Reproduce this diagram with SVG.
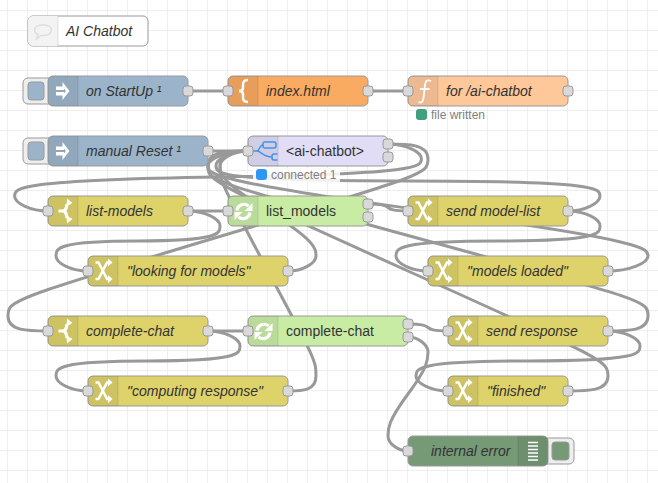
<svg xmlns="http://www.w3.org/2000/svg" xmlns:xlink="http://www.w3.org/1999/xlink" width="658" height="483" viewBox="0 0 658 483">
<style>
.grid{stroke:#eee;stroke-width:1;fill:none}
.wire{stroke:#999;stroke-width:3;fill:none}
.body{stroke:#999;stroke-width:1}
.shade{fill:#000;fill-opacity:.07}
.sep{stroke:#000;stroke-opacity:.1;stroke-width:1}
.port{fill:#d9d9d9;stroke:#999;stroke-width:1}
.lbl{font-family:"Liberation Sans",Arial,sans-serif;font-size:14px;fill:#333;font-kerning:none}
.it{font-style:italic}
.st{font-family:"Liberation Sans",Arial,sans-serif;font-size:12px;fill:#808080}
.btn{fill:#eee;stroke:#999;stroke-width:1}
.ink{fill:none;stroke:#fff;stroke-width:2.5}
.inkf{fill:#fff;stroke:none}
.blue{fill:#9cb4ca}.org{fill:#f9ab62}.fn{fill:#fec89b}.yel{fill:#ded26a}.grn{fill:#c9eca5}.pur{fill:#e1ddf7}.dbg{fill:#769a76}.wht{fill:#fff}
</style>
<defs>
<rect id="b140" class="body" width="140" height="30" rx="5"/>
<path id="shade" class="shade" d="M5 0H30V30H5A5 5 0 0 1 0 25V5A5 5 0 0 1 5 0Z"/>
<path id="sepl" class="sep" d="M30 0V30"/>
<rect id="port" class="port" x="-5" y="-5" width="10" height="10" rx="3"/>
<g id="i-inject">
<path class="inkf" d="M8 10.500H16V14H8ZM8 16H16V19.500H8ZM14.500 6L21.500 15L14.500 24V19.800L17.800 15L14.500 10.200Z"/>
</g>
<g id="i-switch">
<path class="ink" style="stroke-width:3" d="M10.500 15H14.500M14.500 15C18 15 18.500 12 19 8M14.500 15C18 15 18.500 18 19 22"/>
<path class="inkf" d="M19 2.500L24.500 7L18.500 10.500ZM18.500 19.500L24.500 23L19 27.500Z"/>
</g>
<g id="i-sync">
<path class="ink" style="stroke-width:3.200" d="M9 14.500A7 7 0 0 1 20.500 10M22 16.500A7 7 0 0 1 10.500 21"/>
<path class="inkf" d="M24.500 7V15H16.500ZM6.500 24V16H14.500Z"/>
</g>
<g id="i-shuffle">
<path class="ink" d="M7.500 6.500H10.500L19 23H21M7.500 23H10.500L19 6.500H21"/>
<path class="inkf" d="M20 2.500L24.500 6.500L20 10.500ZM20 19L24.500 23L20 27Z"/>
</g>
<rect id="status-bg" width="87" height="14" fill="#fff" fill-opacity=".85"/>
</defs>
<g id="grid">
<path class="grid" d="M7.500 0V483M27.500 0V483M47.500 0V483M67.500 0V483M87.500 0V483M107.500 0V483M127.500 0V483M147.500 0V483M167.500 0V483M187.500 0V483M207.500 0V483M227.500 0V483M247.500 0V483M267.500 0V483M287.500 0V483M307.500 0V483M327.500 0V483M347.500 0V483M367.500 0V483M387.500 0V483M407.500 0V483M427.500 0V483M447.500 0V483M467.500 0V483M487.500 0V483M507.500 0V483M527.500 0V483M547.500 0V483M567.500 0V483M587.500 0V483M607.500 0V483M627.500 0V483M647.500 0V483"/>
<path class="grid" d="M0 10.500H658M0 30.500H658M0 50.500H658M0 70.500H658M0 90.500H658M0 110.500H658M0 130.500H658M0 150.500H658M0 170.500H658M0 190.500H658M0 210.500H658M0 230.500H658M0 250.500H658M0 270.500H658M0 290.500H658M0 310.500H658M0 330.500H658M0 350.500H658M0 370.500H658M0 390.500H658M0 410.500H658M0 430.500H658M0 450.500H658M0 470.500H658"/>
</g>
<g id="connectors">
<path class="wire" d="M188 91H228"/>
<path class="wire" d="M368 91H408"/>
<path class="wire" d="M208 151H248"/>
<path class="wire" d="M188 211H228"/>
<path class="wire" d="M208 331H248"/>
<path class="wire" d="M368 204C398.500 204 377.500 211 408 211"/>
<path class="wire" d="M408 324C438.500 324 417.500 331 448 331"/>
<path class="wire" d="M388 144C404.700 144 421.400 151.500 421.400 159S421.400 174 218 177S14.600 188.500 14.600 196S31.300 211 48 211"/>
<path class="wire" d="M388 144C408 144 428 144 428 159S428 174 218 237S8 301 8 316S28 331 48 331"/>
<path class="wire" d="M568 211C584 211 600 203.500 600 196S600 181 408 181S216 173.500 216 166S232 151 248 151"/>
<path class="wire" d="M608 271C628 271 648 263.500 648 256S648 241 428 211S208 173.500 208 166S228 151 248 151"/>
<path class="wire" d="M608 331C628 331 648 331 648 316S648 301 428 241S208 181 208 166S228 151 248 151"/>
<path class="wire" d="M568 391C588 391 608 391 608 376S608 361 408 271S208 181 208 166S228 151 248 151"/>
<path class="wire" d="M288 391C302 391 316 391 316 376S316 361 268 271S220 181 220 166S234 151 248 151"/>
<path class="wire" d="M288 271C302 271 316 263.500 316 256S316 241 268 211S220 173.500 220 166S234 151 248 151"/>
<path class="wire" d="M188 211C204 211 220 218.500 220 226S220 241 138 241S56 248.500 56 256S72 271 88 271"/>
<path class="wire" d="M208 331C224 331 240 338.500 240 346S240 361 148 361S56 368.500 56 376S72 391 88 391"/>
<path class="wire" d="M568 211C584 211 600 218.500 600 226S600 241 498 241S396 248.500 396 256S412 271 428 271"/>
<path class="wire" d="M608 331C624 331 640 338.500 640 346S640 361 528 361S416 368.500 416 376S432 391 448 391"/>
<path class="wire" d="M408 337C418 337 428 344.500 428 352S428 367 408 394S388 428.500 388 436S398 451 408 451"/>
</g>
<g id="comment" transform="translate(28,16)">
<rect class="body wht" width="120" height="30" rx="5"/>
<path d="M5 0H30V30H5A5 5 0 0 1 0 25V5A5 5 0 0 1 5 0Z" fill="#f3f3f3"/><path class="sep" d="M30 0V30"/>
<path d="M6.500 14C6.500 11 10 9 15 9S23.500 11 23.500 14S20 19.500 15 19.500H13L8.500 23L10 18.500C8 17.500 6.500 16 6.500 14Z" fill="none" stroke="#ddd" stroke-width="1.500"/>
<text class="lbl it" x="38" y="20">AI Chatbot</text>
</g>
<g id="on-startup" transform="translate(48,76)">
<rect class="btn" x="-25" y="2" width="32" height="26" rx="5"/><rect class="body blue" x="-20" y="6" width="16" height="18" rx="3"/>
<use href="#b140" class="blue"/><use href="#shade"/><use href="#sepl"/><use href="#i-inject"/>
<text class="lbl it" x="38" y="20">on StartUp ¹</text>
<use href="#port" x="140" y="15"/>
</g>
<g id="index-html" transform="translate(228,76)">
<use href="#b140" class="org"/><use href="#shade"/><use href="#sepl"/>
<path class="ink" d="M20 4C15.500 4 15 6 15 9V12C15 14 13.500 15 11 15C13.500 15 15 16 15 18V21C15 24 15.500 26 20 26"/>
<text class="lbl it" x="38" y="20">index.html</text>
<use href="#port" y="15"/><use href="#port" x="140" y="15"/>
</g>
<g id="for-ai-chatbot" transform="translate(408,76)">
<rect class="body fn" width="160" height="30" rx="5"/><use href="#shade"/><use href="#sepl"/>
<path class="ink" style="stroke-width:1.800" d="M23 5C18.500 3 17.500 5.500 17 9L15.500 22C15 26 13 27.500 10.500 26M12 13H21.500"/>
<text class="lbl it" x="38" y="20">for /ai-chatbot</text>
<use href="#port" y="15"/><use href="#port" x="160" y="15"/>
<rect x="8" y="33" width="11" height="11" rx="3" fill="#3f9f7f"/>
<text class="st" x="23" y="43">file written</text>
</g>
<g id="manual-reset" transform="translate(48,136)">
<rect class="btn" x="-25" y="2" width="32" height="26" rx="5"/><rect class="body blue" x="-20" y="6" width="16" height="18" rx="3"/>
<rect class="body blue" width="160" height="30" rx="5"/><use href="#shade"/><use href="#sepl"/><use href="#i-inject"/>
<text class="lbl it" x="38" y="20">manual Reset ¹</text>
<use href="#port" x="160" y="15"/>
</g>
<g id="ai-chatbot" transform="translate(248,136)">
<use href="#b140" class="pur"/><use href="#shade"/><use href="#sepl"/>
<g fill="none" stroke="#3f93ea" stroke-width="1.500">
<path d="M5 15H9C12 15 11 9 15 9M9 15C13 15 15 21 24 21"/>
<rect x="15" y="6" width="13" height="6" rx="2"/>
<path d="M29.500 18H26A2 2 0 0 0 24 20V22A2 2 0 0 0 26 24H29.500"/>
</g>
<text class="lbl" x="38" y="20">&lt;ai-chatbot&gt;</text>
<use href="#port" y="15"/><use href="#port" x="140" y="8"/><use href="#port" x="140" y="21"/>
<use href="#status-bg" x="5" y="32"/>
<rect x="8" y="33" width="11" height="11" rx="3" fill="#2f96f3"/>
<text class="st" x="23" y="43">connected 1</text>
</g>
<g id="list-models" transform="translate(48,196)">
<use href="#b140" class="yel"/><use href="#shade"/><use href="#sepl"/><use href="#i-switch"/>
<text class="lbl it" x="38" y="20">list-models</text>
<use href="#port" y="15"/><use href="#port" x="140" y="15"/>
</g>
<g id="list-models-svc" transform="translate(228,196)">
<use href="#b140" class="grn"/><use href="#shade"/><use href="#sepl"/><use href="#i-sync"/>
<text class="lbl" x="38" y="20">list_models</text>
<use href="#port" y="15"/><use href="#port" x="140" y="8"/><use href="#port" x="140" y="21"/>
</g>
<g id="send-model-list" transform="translate(408,196)">
<rect class="body yel" width="160" height="30" rx="5"/><use href="#shade"/><use href="#sepl"/><use href="#i-shuffle"/>
<text class="lbl it" x="38" y="20">send model-list</text>
<use href="#port" y="15"/><use href="#port" x="160" y="15"/>
</g>
<g id="looking-for-models" transform="translate(88,256)">
<rect class="body yel" width="200" height="30" rx="5"/><use href="#shade"/><use href="#sepl"/><use href="#i-shuffle"/>
<text class="lbl it" x="39" y="20">"looking for models"</text>
<use href="#port" y="15"/><use href="#port" x="200" y="15"/>
</g>
<g id="models-loaded" transform="translate(428,256)">
<rect class="body yel" width="180" height="30" rx="5"/><use href="#shade"/><use href="#sepl"/><use href="#i-shuffle"/>
<text class="lbl it" x="39" y="20">"models loaded"</text>
<use href="#port" y="15"/><use href="#port" x="180" y="15"/>
</g>
<g id="complete-chat-switch" transform="translate(48,316)">
<rect class="body yel" width="160" height="30" rx="5"/><use href="#shade"/><use href="#sepl"/><use href="#i-switch"/>
<text class="lbl it" x="38" y="20">complete-chat</text>
<use href="#port" y="15"/><use href="#port" x="160" y="15"/>
</g>
<g id="complete-chat-svc" transform="translate(248,316)">
<rect class="body grn" width="160" height="30" rx="5"/><use href="#shade"/><use href="#sepl"/><use href="#i-sync"/>
<text class="lbl" x="38" y="20">complete-chat</text>
<use href="#port" y="15"/><use href="#port" x="160" y="8"/><use href="#port" x="160" y="21"/>
</g>
<g id="send-response" transform="translate(448,316)">
<rect class="body yel" width="160" height="30" rx="5"/><use href="#shade"/><use href="#sepl"/><use href="#i-shuffle"/>
<text class="lbl it" x="38" y="20">send response</text>
<use href="#port" y="15"/><use href="#port" x="160" y="15"/>
</g>
<g id="computing-response" transform="translate(88,376)">
<rect class="body yel" width="200" height="30" rx="5"/><use href="#shade"/><use href="#sepl"/><use href="#i-shuffle"/>
<text class="lbl it" x="39" y="20">"computing response"</text>
<use href="#port" y="15"/><use href="#port" x="200" y="15"/>
</g>
<g id="finished" transform="translate(448,376)">
<rect class="body yel" width="120" height="30" rx="5"/><use href="#shade"/><use href="#sepl"/><use href="#i-shuffle"/>
<text class="lbl it" x="39" y="20">"finished"</text>
<use href="#port" y="15"/><use href="#port" x="120" y="15"/>
</g>
<g id="internal-error" transform="translate(408,436)">
<rect class="btn" x="134" y="2" width="32" height="26" rx="5"/><rect class="body dbg" x="144" y="6" width="17" height="18" rx="3"/>
<use href="#b140" class="dbg"/>
<path class="shade" d="M110 0H135A5 5 0 0 1 140 5V25A5 5 0 0 1 135 30H110Z"/><path class="sep" d="M110 0V30"/>
<path d="M120 6.500H130M120 10H130M120 13.500H130M120 17H130M120 20.500H130M120 24H130" stroke="#fff" stroke-width="1.500" fill="none"/>
<text class="lbl it" x="23" y="20">internal error</text>
<use href="#port" y="15"/>
</g>
</svg>
